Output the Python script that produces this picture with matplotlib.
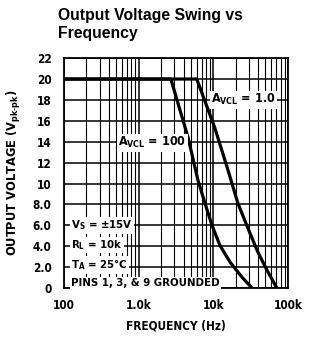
import matplotlib
matplotlib.use("Agg")
import matplotlib.pyplot as plt
from matplotlib.ticker import FixedLocator, NullFormatter, LogLocator

# Data
f_a100 = [100, 2700, 4570, 6220, 7720, 9570, 12200, 16700, 24100, 33000]
v_a100 = [20, 20, 14.45, 10.33, 8.13, 6.03, 4.11, 2.49, 1.05, 0.0]
f_a1 = [100, 6000, 10500, 15700, 21300, 29000, 39500, 52200, 71000]
v_a1 = [20, 20, 15.3, 11.3, 8.13, 5.74, 3.44, 1.72, 0.0]

xticks = [100, 1000, 10000, 100000]
xticklabels = ["100", "1.0k", "10k", "100k"]
yticks = [0, 2, 4, 6, 8, 10, 12, 14, 16, 18, 20, 22]
yticklabels = ["0", "2.0", "4.0", "6.0", "8.0", "10", "12", "14", "16", "18", "20", "22"]

cond = dict(family="DejaVu Sans", stretch="condensed", fontweight="bold")

fig = plt.figure(figsize=(3.13, 3.38), dpi=100)
ax = fig.add_axes([0.2045, 0.148, 0.7155, 0.68])
ax.set_xscale("log")
ax.set_xlim(100, 100000)
ax.set_ylim(0, 22)

ax.xaxis.set_major_locator(FixedLocator(xticks))
ax.xaxis.set_minor_locator(LogLocator(base=10, subs=range(2, 10)))
ax.xaxis.set_minor_formatter(NullFormatter())
ax.set_xticks(xticks)
ax.set_xticklabels(xticklabels)
ax.set_yticks(yticks)
ax.set_yticklabels(yticklabels)

ax.grid(True, which="major", color="black", linewidth=1.1)
ax.grid(True, which="minor", axis="x", color="black", linewidth=0.8)
ax.tick_params(axis="x", which="both", length=0, pad=8)
ax.tick_params(axis="y", which="both", length=0, pad=9)
for lbl in ax.get_xticklabels() + ax.get_yticklabels():
    lbl.set_family("DejaVu Sans")
    lbl.set_stretch("condensed")
    lbl.set_fontweight("bold")
    lbl.set_fontsize(8.5)
for s in ax.spines.values():
    s.set_linewidth(1.3)

ax.plot(f_a100, v_a100, color="black", linewidth=2.3, solid_capstyle="butt")
ax.plot(f_a1, v_a1, color="black", linewidth=2.3, solid_capstyle="butt")

bb = dict(facecolor="white", edgecolor="none", pad=1.0)
ax.text(530, 13.9, r"A$_{\mathregular{VCL}}$ = 100", fontsize=9, va="center", ha="left",
        bbox=bb, zorder=5, **cond)
ax.text(9400, 18.0, r"A$_{\mathregular{VCL}}$ = 1.0", fontsize=9, va="center", ha="left",
        bbox=bb, zorder=5, **cond)

notes = [(6.0, r"V$_{\mathregular{S}}$ = ±15V"), (4.1, r"R$_{\mathregular{L}}$ = 10k"),
         (2.2, r"T$_{\mathregular{A}}$ = 25°C"), (0.48, "PINS 1, 3, & 9 GROUNDED")]
for y, t in notes:
    ax.text(124, y, t, fontsize=8.2, va="center", ha="left", bbox=bb, zorder=5, **cond)

ax.set_xlabel("FREQUENCY (Hz)", fontsize=8.5, labelpad=5, **cond)
ax.set_ylabel(r"OUTPUT VOLTAGE (V$_{\mathregular{pk\text{-}pk}}$)", fontsize=9.2,
              labelpad=7, **cond)

fig.text(0.185, 0.975, "Output Voltage Swing vs\nFrequency", fontsize=11.3,
         fontweight="bold", ha="left", va="top", linespacing=1.2,
         family=["Liberation Sans", "DejaVu Sans"])

fig.savefig("out.png", dpi=100, facecolor="white")
